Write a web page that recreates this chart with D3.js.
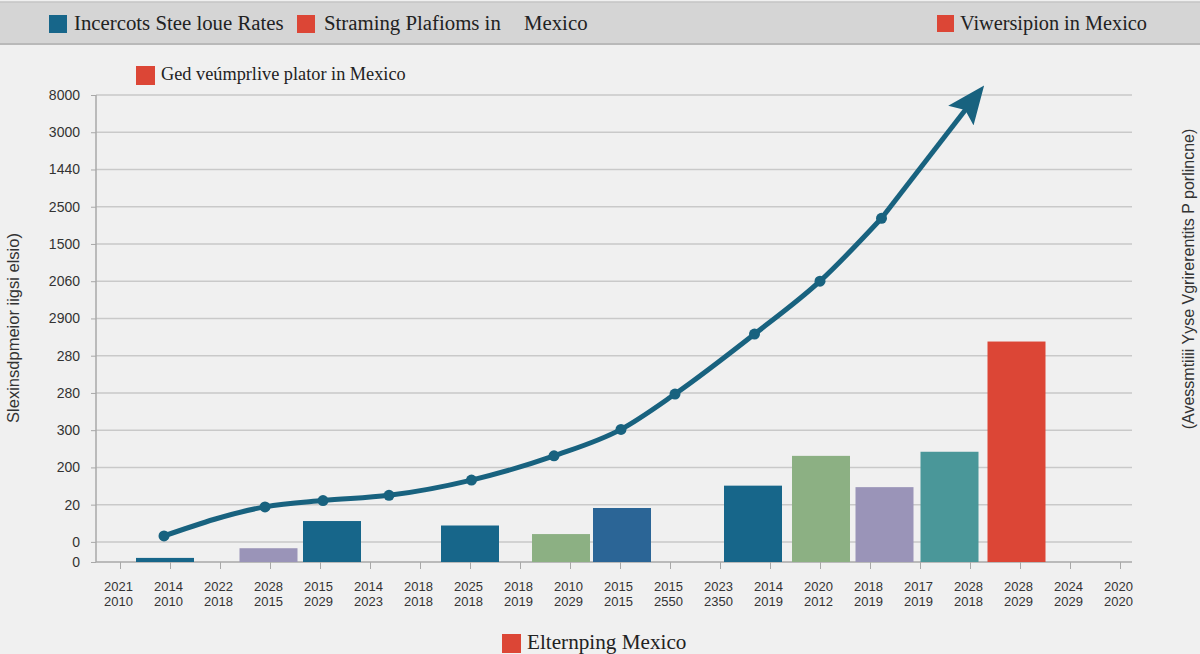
<!DOCTYPE html>
<html>
<head>
<meta charset="utf-8">
<script src="https://cdn.jsdelivr.net/npm/d3@7"></script>
<style>
  body { margin: 0; background: #f0f0f0; }
  svg { display: block; }
  .serif { font-family: "Liberation Serif", "DejaVu Serif", serif; fill: #222; }
  .sans { font-family: "Liberation Sans", "DejaVu Sans", sans-serif; fill: #333; }
</style>
</head>
<body>
<div id="chart"></div>
<script>
// x-axis tick labels (two lines each)
var xTop = ["2021","2014","2022","2028","2015","2014","2018","2025","2018","2010","2015","2015","2023","2014","2020","2018","2017","2028","2028","2024","2020"];
var xBottom = ["2010","2010","2018","2015","2029","2023","2018","2018","2019","2029","2015","2550","2350","2019","2012","2019","2019","2018","2029","2029","2020"];

// y-axis tick labels, bottom to top
var yLabels = ["0","0","20","200","300","280","280","2900","2060","1500","2500","1440","3000","8000"];
var yValues = [0, 0.54, 1.54, 2.54, 3.54, 4.54, 5.54, 6.54, 7.54, 8.54, 9.54, 10.54, 11.54, 12.54];

// bars: position along the tick index, value, colour
var barPos = [0.9, 2.97, 4.24, 7.0, 8.82, 10.04, 12.66, 14.02, 15.29, 16.59, 17.93];
var barVals = [0.11, 0.37, 1.1, 0.98, 0.75, 1.45, 2.05, 2.85, 2.01, 2.96, 5.92];
var barColors = ["#17668a","#9a94b8","#17668a","#17668a","#8cb083","#2b6596","#17668a","#8cb083","#9a94b8","#4a9799","#dc4636"];

// line series
var lineX = [0.88, 2.9, 4.06, 5.38, 7.03, 8.68, 10.02, 11.1, 12.69, 14.0, 15.23];
var lineY = [0.70, 1.48, 1.65, 1.79, 2.20, 2.85, 3.56, 4.51, 6.12, 7.54, 9.23];
var arrowEnd = { x: 16.94, y: 12.2 };

var width = 1200, height = 654;

var svg = d3.select("#chart").append("svg")
    .attr("width", width)
    .attr("height", height);

// header band
svg.append("rect").attr("x", 0).attr("y", 2).attr("width", width).attr("height", 42)
    .attr("fill", "#d5d5d5");
svg.append("line").attr("x1", 0).attr("x2", width).attr("y1", 2).attr("y2", 2)
    .attr("stroke", "#c4c4c4").attr("stroke-width", 1.5);
svg.append("line").attr("x1", 0).attr("x2", width).attr("y1", 44).attr("y2", 44)
    .attr("stroke", "#b9b9b9").attr("stroke-width", 2);

var x = d3.scaleLinear().domain([0, 20]).range([120, 1120]);
var y = d3.scaleLinear().domain([0, 12.54]).range([562, 95]);

// gridlines
svg.append("g").selectAll("line")
    .data(yValues.slice(1))
    .enter().append("line")
    .attr("x1", 96).attr("x2", 1132)
    .attr("y1", function(d) { return y(d); })
    .attr("y2", function(d) { return y(d); })
    .attr("stroke", "#c9c9c9").attr("stroke-width", 1.5);

// y axis
var yAxis = d3.axisLeft(y)
    .tickValues(yValues)
    .tickFormat(function(d, i) { return yLabels[i]; })
    .tickSize(5)
    .tickPadding(11);
var yg = svg.append("g").attr("transform", "translate(96,0)").call(yAxis);
yg.select(".domain").attr("stroke", "#a8a8a8").attr("stroke-width", 1.5).attr("d", "M0,95V562");
yg.selectAll(".tick line").attr("stroke", "#a8a8a8");
yg.selectAll(".tick text").attr("class", "sans").style("font-size", "14px").attr("fill", "#333");

// x axis
var xAxis = d3.axisBottom(x)
    .tickValues(d3.range(21))
    .tickFormat("")
    .tickSize(7);
var xg = svg.append("g").attr("transform", "translate(0,562)").call(xAxis);
xg.select(".domain").attr("stroke", "#a8a8a8").attr("stroke-width", 1.5).attr("d", "M96,0H1132");
xg.selectAll(".tick line").attr("stroke", "#a8a8a8");
xg.selectAll(".tick").append("text")
    .attr("class", "sans")
    .attr("text-anchor", "middle")
    .style("font-size", "13px")
    .each(function(d, i) {
      var t = d3.select(this);
      t.append("tspan").attr("x", -2).attr("y", 29).text(xTop[i]);
      t.append("tspan").attr("x", -2).attr("y", 44).text(xBottom[i]);
    });

// bars
var barW = x(1.16) - x(0);
svg.append("g").selectAll("rect")
    .data(barVals)
    .enter().append("rect")
    .attr("x", function(d, i) { return x(barPos[i]) - barW / 2; })
    .attr("y", function(d) { return y(d); })
    .attr("width", barW)
    .attr("height", function(d) { return y(0) - y(d); })
    .attr("fill", function(d, i) { return barColors[i]; });

// line with arrow
var lineColor = "#18627f";
svg.append("defs").append("marker")
    .attr("id", "arrow")
    .attr("markerUnits", "userSpaceOnUse")
    .attr("viewBox", "0 0 38 32")
    .attr("refX", 10).attr("refY", 16)
    .attr("markerWidth", 38).attr("markerHeight", 32)
    .attr("orient", "auto")
  .append("path")
    .attr("d", "M0,0L38,16L0,32L7,16Z")
    .attr("fill", lineColor);

var pts = lineX.map(function(d, i) { return [d, lineY[i]]; });
var linePath = d3.line()
    .curve(d3.curveMonotoneX)
    .x(function(d) { return x(d[0]); })
    .y(function(d) { return y(d[1]); });

svg.append("path")
    .datum(pts)
    .attr("d", linePath)
    .attr("fill", "none")
    .attr("stroke", lineColor)
    .attr("stroke-width", 5)
    .attr("stroke-linejoin", "round");

var last = pts[pts.length - 1];
svg.append("line")
    .attr("x1", x(last[0])).attr("y1", y(last[1]))
    .attr("x2", x(arrowEnd.x)).attr("y2", y(arrowEnd.y))
    .attr("stroke", lineColor)
    .attr("stroke-width", 5)
    .attr("marker-end", "url(#arrow)");

svg.append("g").selectAll("circle")
    .data(pts)
    .enter().append("circle")
    .attr("cx", function(d) { return x(d[0]); })
    .attr("cy", function(d) { return y(d[1]); })
    .attr("r", 5.5)
    .attr("fill", lineColor);

// legends
function legendItem(sx, sy, size, color, tx, ty, fs, label) {
  svg.append("rect").attr("x", sx).attr("y", sy).attr("width", size).attr("height", size)
      .attr("fill", color);
  svg.append("text").attr("class", "serif").attr("x", tx).attr("y", ty)
      .style("font-size", fs + "px").text(label);
}
legendItem(49, 15, 18, "#17668a", 74, 30, 20.8, "Incercots Stee loue Rates");
legendItem(297, 15, 18, "#dc4636", 324, 30, 20.8, "Straming Plafioms in");
svg.append("text").attr("class", "serif").attr("x", 524).attr("y", 30)
    .style("font-size", "20.8px").text("Mexico");
legendItem(937, 15, 17, "#dc4636", 960, 30, 20.3, "Viwersipion in Mexico");
legendItem(136, 66, 19, "#dc4636", 161, 80, 18.3, "Ged veúmprlive plator in Mexico");
legendItem(502, 634, 19, "#dc4636", 527, 649, 21.2, "Elternping Mexico");

// axis titles
svg.append("text").attr("class", "sans")
    .attr("transform", "translate(19,328) rotate(-90)")
    .attr("text-anchor", "middle")
    .style("font-size", "16.5px")
    .text("Slexinsdpmeior iigsi elsio)");
svg.append("text").attr("class", "sans")
    .attr("transform", "translate(1194,279) rotate(-90)")
    .attr("text-anchor", "middle")
    .style("font-size", "16px")
    .text("(Avessmtiiii Yyse Vgrirerentits P porlincne)");
</script>
</body>
</html>
